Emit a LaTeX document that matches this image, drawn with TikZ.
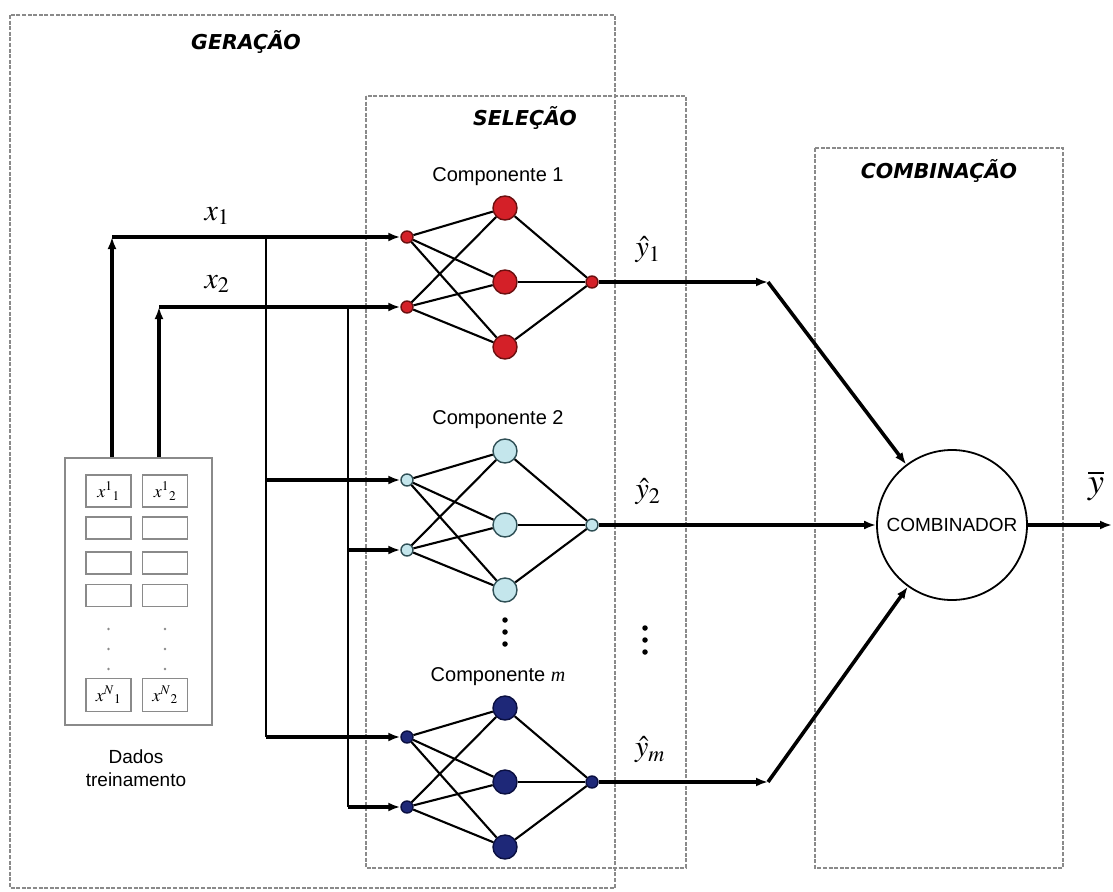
\documentclass[tikz,border=0pt]{standalone}
\usepackage{mathptmx}
\usepackage{fontspec}
\setmainfont{Liberation Serif}
\setsansfont{Liberation Sans}
\newfontfamily\titlefont{DejaVu Sans}[ItalicFont={DejaVu Sans Oblique},BoldFont={DejaVu Sans Bold},BoldItalicFont={DejaVu Sans Bold Oblique}]
\usetikzlibrary{arrows.meta}
\definecolor{nred}{HTML}{D42028}
\definecolor{nredd}{HTML}{6A1010}
\definecolor{ncyan}{HTML}{C4E6EC}
\definecolor{ncyand}{HTML}{2F4F55}
\definecolor{nnavy}{HTML}{1E2878}
\definecolor{nnavyd}{HTML}{0A0F40}
\definecolor{boxgray}{HTML}{8A8A8A}
\begin{document}
\begin{tikzpicture}[x=1pt,y=-1pt,
  grp/.style={draw=boxgray, line width=2pt, dash pattern=on 4pt off 1.6pt},
  ttl/.style={font=\titlefont\bfseries\itshape\fontsize{20.5}{24}\selectfont},
  comptxt/.style={font=\sffamily\fontsize{20}{24}\selectfont},
  smallnode/.style={circle, minimum size=12pt, inner sep=0pt, line width=1.4pt},
  bignode/.style={circle, minimum size=24pt, inner sep=0pt, line width=1.4pt},
  edge/.style={line width=2.1pt},
  flow/.style={line width=3.6pt, -{Latex[length=12pt,width=9pt]}},
  branch/.style={line width=2.2pt},
  lbl/.style={font=\fontsize{30}{34}\selectfont},
  cell/.style={draw=boxgray, line width=1.6pt, minimum width=45pt, inner sep=0pt},
  cdot/.style={circle, fill=boxgray, minimum size=2.6pt, inner sep=0pt},
  bdot/.style={circle, fill=black, minimum size=5.5pt, inner sep=0pt}
]
\useasboundingbox (0,0) rectangle (1113,891);
\fill[white] (0,0) rectangle (1113,891);

% group boxes
\draw[grp] (10,15) rectangle (615,888);
\draw[grp] (366,96) rectangle (686,868);
\draw[grp] (815,148) rectangle (1063,868);
\node[ttl] (tger) at (246,42) {GERAÇÃO};
\node[ttl] (tsel) at (525,118) {SELEÇÃO};
\node[ttl] (tcomb) at (939,171) {COMBINAÇÃO};

% training data
\node[draw=boxgray, line width=2pt, minimum width=147pt, minimum height=267pt, inner sep=0pt] (data) at (138.5,591.5) {};
\node[cell, minimum height=32pt, font=\fontsize{18}{20}\selectfont] (ca1) at (108.5,491) {$x^{1}{}_{1}$};
\node[cell, minimum height=32pt, font=\fontsize{18}{20}\selectfont] (cb1) at (165,491) {$x^{1}{}_{2}$};
\node[cell, minimum height=22pt] (ca2) at (108.5,528) {};
\node[cell, minimum height=22pt] (cb2) at (165,528) {};
\node[cell, minimum height=22pt] (ca3) at (108.5,563) {};
\node[cell, minimum height=22pt] (cb3) at (165,563) {};
\node[cell, minimum height=22pt] (ca4) at (108.5,595.5) {};
\node[cell, minimum height=22pt] (cb4) at (165,595.5) {};
\foreach \yy in {629,649,669}{
  \node[cdot] at (108.5,\yy) {};
  \node[cdot] at (165,\yy) {};
}
\node[cell, minimum height=33pt, font=\fontsize{18}{20}\selectfont] (ca5) at (108.5,695) {$x^{N}{}_{1}$};
\node[cell, minimum height=33pt, font=\fontsize{18}{20}\selectfont] (cb5) at (165,695) {$x^{N}{}_{2}$};
\node[font=\sffamily\fontsize{19}{23}\selectfont, align=center] (dtxt) at (136,768) {Dados\\treinamento};

% components
\foreach \c/\m/\col/\bcol/\lab in {1/282/nred/nredd/1, 2/525/ncyan/ncyand/2, m/782/nnavy/nnavyd/{{\rmfamily\itshape m}}}{
  \node[comptxt] (lab\c) at (498,\m-105) {Componente \lab};
  \node[smallnode, fill=\col, draw=\bcol] (c\c i1) at (407,\m-45) {};
  \node[smallnode, fill=\col, draw=\bcol] (c\c i2) at (407,\m+25) {};
  \node[bignode, fill=\col, draw=\bcol] (c\c h1) at (505,\m-74) {};
  \node[bignode, fill=\col, draw=\bcol] (c\c h2) at (505,\m) {};
  \node[bignode, fill=\col, draw=\bcol] (c\c h3) at (505,\m+65) {};
  \node[smallnode, fill=\col, draw=\bcol] (c\c o) at (592,\m) {};
  \foreach \i in {1,2}{
    \foreach \h in {1,2,3}{
      \draw[edge] (c\c i\i) -- (c\c h\h);
    }
  }
  \foreach \h in {1,2,3}{
    \draw[edge] (c\c h\h) -- (c\c o);
  }
}

% vertical ellipsis dots
\node[bdot] (vd1) at (505,620) {};
\node[bdot] (vd2) at (505,632) {};
\node[bdot] (vd3) at (505,644) {};
\node[bdot] (rd1) at (645,628) {};
\node[bdot] (rd2) at (645,640) {};
\node[bdot] (rd3) at (645,652) {};

% inputs
\coordinate (a1) at (112,237);
\coordinate (a2) at (159,307);
\coordinate (b1) at (266,237);
\coordinate (b2) at (348,307);
\draw[flow] (data.north -| a1) -- (a1);
\draw[flow] (data.north -| a2) -- (a2);
\draw[flow] (a1) -- (c1i1);
\draw[flow] (a2) -- (c1i2);
\node[lbl] (lx1) at (217,216) {$x_1$};
\node[lbl] (lx2) at (217,284) {$x_2$};
\draw[branch] (b1) -- (b1 |- cmi1);
\draw[branch] (b2) -- (b2 |- cmi2);
\draw[flow] (b1 |- c2i1) -- (c2i1);
\draw[flow] (b1 |- cmi1) -- (cmi1);
\draw[flow] (b2 |- c2i2) -- (c2i2);
\draw[flow] (b2 |- cmi2) -- (cmi2);

% combiner
\node[circle, draw=black, line width=1.8pt, minimum size=150pt, inner sep=0pt, font=\sffamily\fontsize{19}{22}\selectfont] (comb) at (952,525) {COMBINADOR};
\coordinate (k1) at (768,282);
\coordinate (km) at (768,782);
\coordinate (yout) at (1112,525);
\draw[flow] (c1o) -- (k1);
\draw[flow] (k1) -- (comb);
\draw[flow] (c2o) -- (comb);
\draw[flow] (cmo) -- (km);
\draw[flow] (km) -- (comb);
\draw[flow] (comb) -- (yout);
\node[lbl] (ly1) at (648,250) {$\hat{y}_1$};
\node[lbl] (ly2) at (648,492) {$\hat{y}_2$};
\node[lbl] (lym) at (650,750) {$\hat{y}_m$};
\node[font=\fontsize{36}{40}\selectfont] (lyb) at (1096,486) {$\overline{y}$};
\end{tikzpicture}
\end{document}
